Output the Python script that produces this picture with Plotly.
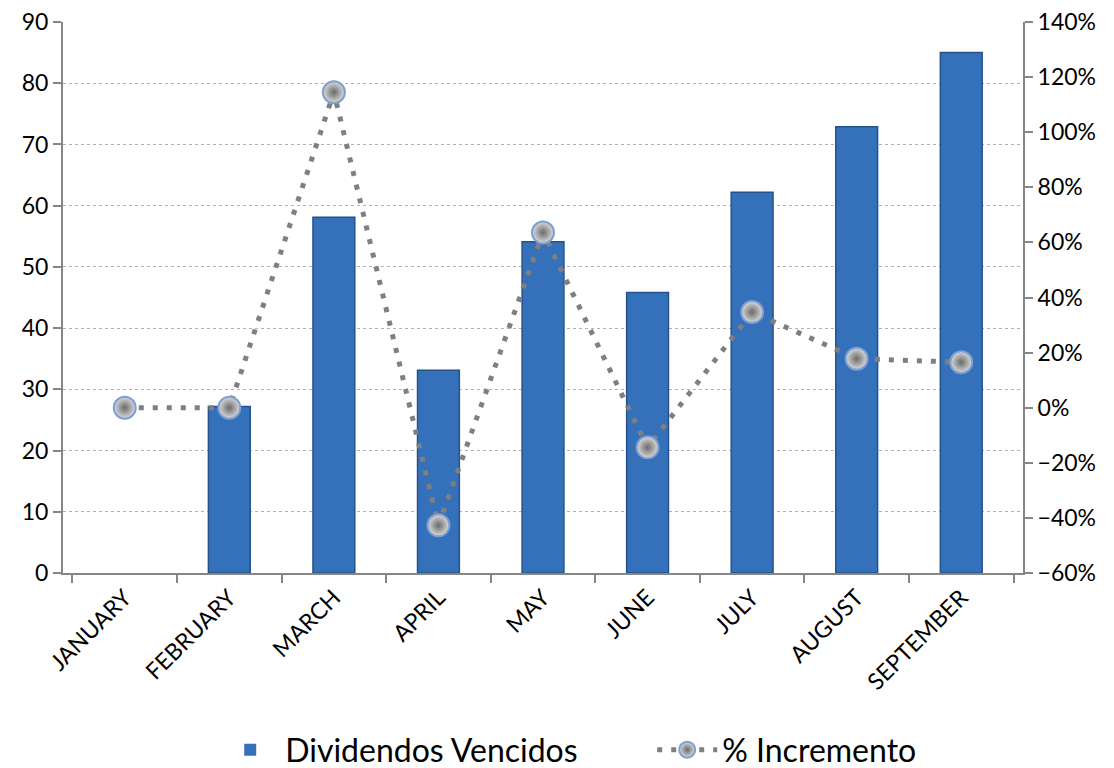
import plotly.graph_objects as go

months = ["JANUARY", "FEBRUARY", "MARCH", "APRIL", "MAY", "JUNE", "JULY", "AUGUST", "SEPTEMBER"]
dividendos = [0, 27.2, 58.1, 33.1, 54.1, 45.8, 62.2, 72.9, 85.0]
incremento = [0, 0, 114.5, -42.7, 63.6, -14.4, 34.7, 17.8, 16.5]

FONT = "Lato, 'Open Sans', sans-serif"
AXIS = "#868686"
GRID = "#b3b3b3"

fig = go.Figure()
fig.add_trace(go.Bar(
    x=months, y=dividendos, name="Dividendos Vencidos",
    marker=dict(color="#3571BA",
                line=dict(color="#24528C", width=[0 if v == 0 else 1.5 for v in dividendos])),
    width=0.4, yaxis="y",
))
fig.add_trace(go.Scatter(
    x=months, y=incremento, name="% Incremento", mode="lines+markers",
    line=dict(color="#7f7f7f", width=5, dash="5px,9px"),
    marker=dict(size=22, color="#dcdcdc",
                gradient=dict(type="radial", color="#6a6a6a"),
                line=dict(color="#7f9fd4", width=2)),
    yaxis="y2",
))

fig.update_layout(
    width=1114, height=768,
    margin=dict(l=55, r=99, t=14, b=203, autoexpand=False),
    paper_bgcolor="white", plot_bgcolor="white",
    font=dict(family=FONT, color="black"),
    showlegend=True,
    legend=dict(orientation="h", x=0.186, xanchor="left", xref="container",
                y=0.034, yanchor="middle", yref="container",
                font=dict(size=32, family=FONT), entrywidth=362, entrywidthmode="pixels",
                itemwidth=60, traceorder="normal"),
    xaxis=dict(
        type="category", showline=True, linecolor=AXIS, linewidth=2,
        ticks="outside", ticklen=8, tickcolor=AXIS, tickwidth=1.5,
        tickson="boundaries", tickangle=-45, tickfont=dict(size=23),
        showgrid=False, zeroline=False, automargin=False,
    ),
    yaxis=dict(
        range=[0, 90], dtick=10, showline=True, linecolor=AXIS, linewidth=2,
        ticks="outside", ticklen=8, tickcolor=AXIS, tickwidth=1.5,
        tickfont=dict(size=23), showgrid=True, gridcolor=GRID, gridwidth=1,
        griddash="dot", zeroline=False, automargin=False, ticklabeloverflow="allow",
    ),
    yaxis2=dict(
        range=[-60, 140], dtick=20, overlaying="y", side="right",
        showline=True, linecolor=AXIS, linewidth=2,
        ticks="outside", ticklen=8, tickcolor=AXIS, tickwidth=1.5,
        ticksuffix="%", tickfont=dict(size=23), showgrid=False, zeroline=False,
        automargin=False, ticklabeloverflow="allow",
    ),
)

fig.write_html("out.html")
